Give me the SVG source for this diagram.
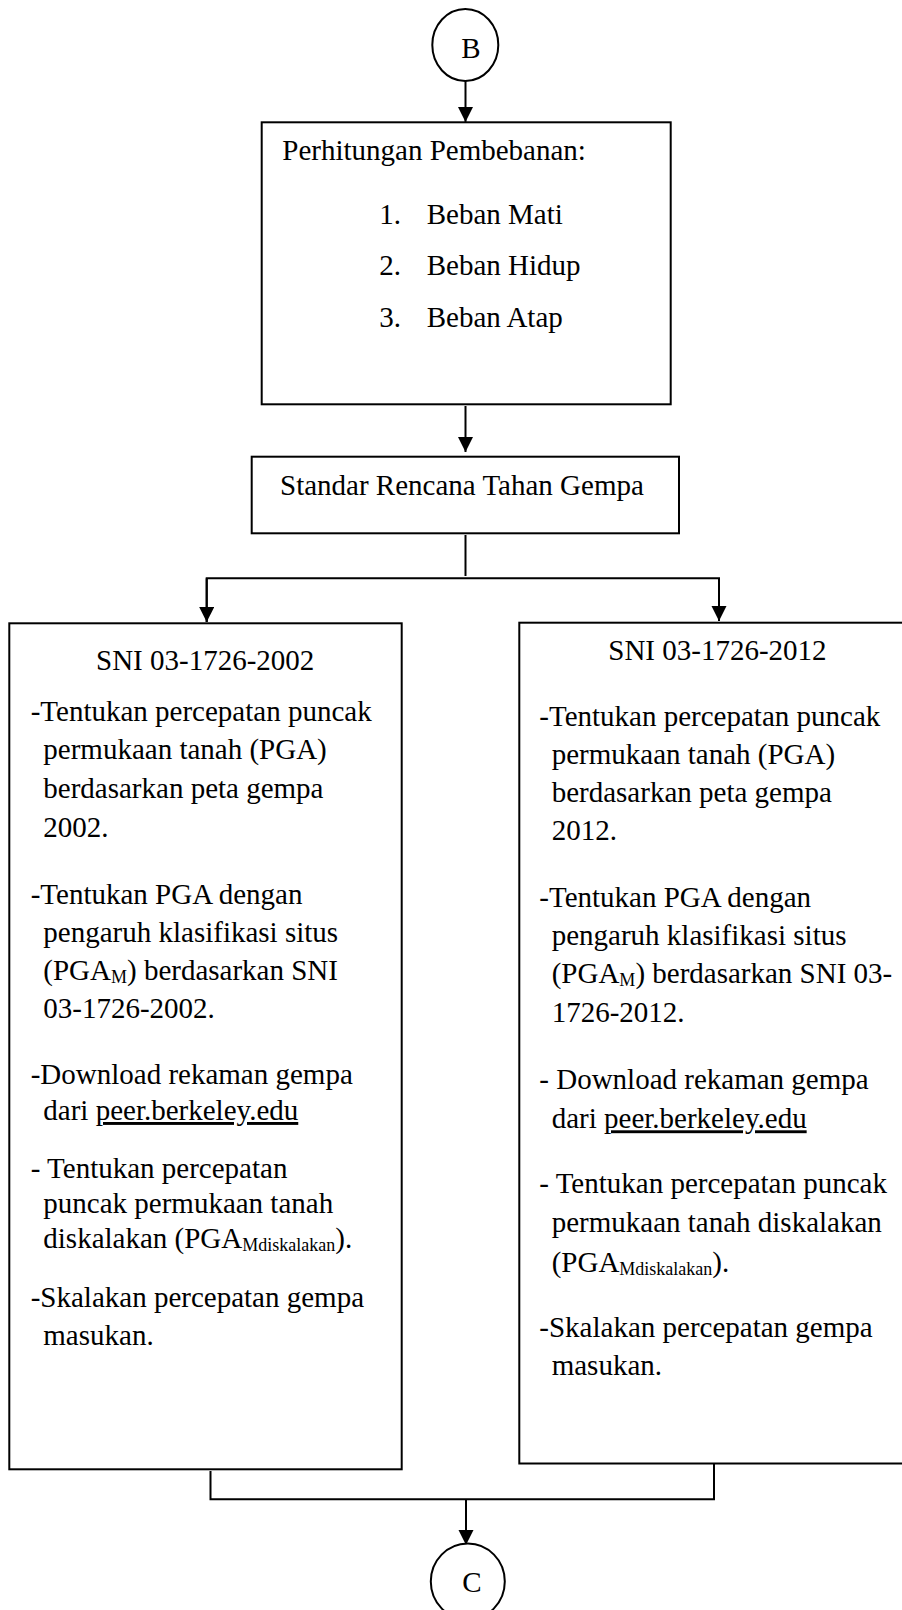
<svg xmlns="http://www.w3.org/2000/svg" width="902" height="1610" viewBox="0 0 902 1610">
  <defs>
    <marker id="arrow" markerUnits="userSpaceOnUse" markerWidth="16" markerHeight="16" refX="15" refY="7.5" orient="auto">
      <path d="M0,0 L15,7.5 L0,15 z" fill="#000"/>
    </marker>
    <style>
      .box { fill: #fff; stroke: #000; stroke-width: 2; }
      .link { fill: none; stroke: #000; stroke-width: 2; }
      .t { font-family: "Liberation Serif", "Times New Roman", serif; font-size: 29px; fill: #000; }
      .sub { font-size: 18px; }
      .u { text-decoration: underline; }
    </style>
  </defs>
  <rect x="0" y="0" width="902" height="1610" fill="#fff"/>

  <!-- connectors -->
  <g id="connectors">
    <line class="link" x1="465.5" y1="80" x2="465.5" y2="122" marker-end="url(#arrow)"/>
    <line class="link" x1="465.5" y1="406" x2="465.5" y2="452" marker-end="url(#arrow)"/>
    <line class="link" x1="465.5" y1="535" x2="465.5" y2="576"/>
    <polyline class="link" points="206.7,622 206.7,578.3 719,578.3 719,621" marker-end="url(#arrow)"/>
    <line class="link" x1="206.7" y1="578.3" x2="206.7" y2="622" marker-end="url(#arrow)"/>
    <polyline class="link" points="210.5,1471 210.5,1499.3 714,1499.3 714,1460.5"/>
    <line class="link" x1="466" y1="1499.3" x2="466" y2="1545" marker-end="url(#arrow)"/>
  </g>

  <!-- connector B -->
  <g id="node-b">
    <ellipse class="box" cx="465.3" cy="45" rx="33" ry="36"/>
    <text class="t" x="471" y="57.5" text-anchor="middle">B</text>
  </g>

  <!-- load calculation -->
  <g id="node-pembebanan">
    <rect class="box" x="261.7" y="122.3" width="409" height="282"/>
    <text class="t" x="282.3" y="160">Perhitungan Pembebanan:</text>
    <text class="t" x="379.3" y="224">1.</text>
    <text class="t" x="426.7" y="224">Beban Mati</text>
    <text class="t" x="379.3" y="275.3">2.</text>
    <text class="t" x="426.7" y="275.3">Beban Hidup</text>
    <text class="t" x="379.3" y="326.7">3.</text>
    <text class="t" x="426.7" y="326.7">Beban Atap</text>
  </g>

  <!-- seismic design standard -->
  <g id="node-standar">
    <rect class="box" x="251.7" y="456.7" width="427.3" height="76.6"/>
    <text class="t" x="280" y="495">Standar Rencana Tahan Gempa</text>
  </g>

  <!-- SNI 2002 branch -->
  <g id="node-sni2002">
    <rect class="box" x="9.3" y="623.3" width="392.4" height="846"/>
    <text class="t" x="96" y="670">SNI 03-1726-2002</text>
    <text class="t" x="30.7" y="720.7">-Tentukan percepatan puncak</text>
    <text class="t" x="43.3" y="759.4">permukaan tanah (PGA)</text>
    <text class="t" x="43.3" y="798.1">berdasarkan peta gempa</text>
    <text class="t" x="43.3" y="836.8">2002.</text>
    <text class="t" x="30.7" y="903.5">-Tentukan PGA dengan</text>
    <text class="t" x="43.3" y="941.8">pengaruh klasifikasi situs</text>
    <text class="t" x="43.3" y="980.1">(PGA<tspan class="sub" dy="3">M</tspan><tspan dy="-3">) berdasarkan SNI</tspan></text>
    <text class="t" x="43.3" y="1018.4">03-1726-2002.</text>
    <text class="t" x="30.7" y="1084">-Download rekaman gempa</text>
    <text class="t" x="43.3" y="1120">dari <tspan class="u">peer.berkeley.edu</tspan></text>
    <text class="t" x="30.7" y="1178.3">- Tentukan percepatan</text>
    <text class="t" x="43.3" y="1213.3">puncak permukaan tanah</text>
    <text class="t" x="43.3" y="1248.3">diskalakan (PGA<tspan class="sub" dy="3">Mdiskalakan</tspan><tspan dy="-3">).</tspan></text>
    <text class="t" x="30.7" y="1306.7">-Skalakan percepatan gempa</text>
    <text class="t" x="43.3" y="1345">masukan.</text>
  </g>

  <!-- SNI 2012 branch -->
  <g id="node-sni2012">
    <rect class="box" x="519.3" y="622.7" width="400" height="840.8"/>
    <text class="t" x="608.3" y="660">SNI 03-1726-2012</text>
    <text class="t" x="539.3" y="726">-Tentukan percepatan puncak</text>
    <text class="t" x="551.7" y="764">permukaan tanah (PGA)</text>
    <text class="t" x="551.7" y="802">berdasarkan peta gempa</text>
    <text class="t" x="551.7" y="840">2012.</text>
    <text class="t" x="539.3" y="906.7">-Tentukan PGA dengan</text>
    <text class="t" x="551.7" y="945">pengaruh klasifikasi situs</text>
    <text class="t" x="551.7" y="983.3">(PGA<tspan class="sub" dy="3">M</tspan><tspan dy="-3">) berdasarkan SNI 03-</tspan></text>
    <text class="t" x="551.7" y="1021.7">1726-2012.</text>
    <text class="t" x="539.3" y="1089">- Download rekaman gempa</text>
    <text class="t" x="551.7" y="1128.3">dari <tspan class="u">peer.berkeley.edu</tspan></text>
    <text class="t" x="539.3" y="1193.3">- Tentukan percepatan puncak</text>
    <text class="t" x="551.7" y="1231.7">permukaan tanah diskalakan</text>
    <text class="t" x="551.7" y="1271.7">(PGA<tspan class="sub" dy="3">Mdiskalakan</tspan><tspan dy="-3">).</tspan></text>
    <text class="t" x="539.3" y="1336.7">-Skalakan percepatan gempa</text>
    <text class="t" x="551.7" y="1375">masukan.</text>
  </g>

  <!-- connector C -->
  <g id="node-c">
    <ellipse class="box" cx="467.8" cy="1581.5" rx="37" ry="38"/>
    <text class="t" x="472" y="1591.7" text-anchor="middle">C</text>
  </g>
</svg>
